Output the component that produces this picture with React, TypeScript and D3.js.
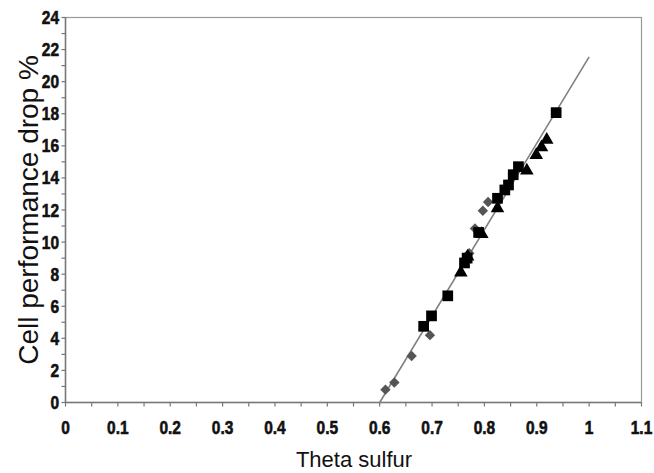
import React from "react";
import * as d3 from "d3";

const xTicks = [0, 0.1, 0.2, 0.3, 0.4, 0.5, 0.6, 0.7, 0.8, 0.9, 1, 1.1];
const yTicks = [0, 2, 4, 6, 8, 10, 12, 14, 16, 18, 20, 22, 24];

const diamondX = [0.611, 0.628, 0.661, 0.696, 0.771, 0.782, 0.797, 0.807];
const diamondY = [0.8, 1.25, 2.9, 4.2, 9.3, 10.85, 11.95, 12.5];

const squareX = [0.684, 0.699, 0.73, 0.762, 0.767, 0.789, 0.825, 0.839, 0.846, 0.855, 0.865, 0.937];
const squareY = [4.75, 5.4, 6.65, 8.7, 9.0, 10.6, 12.73, 13.25, 13.56, 14.2, 14.7, 18.07];

const triangleX = [0.755, 0.768, 0.795, 0.825, 0.881, 0.899, 0.909, 0.919];
const triangleY = [8.1, 9.1, 10.5, 12.1, 14.45, 15.43, 15.9, 16.37];

const fitX = [0.6, 1.0];
const fitY = [0, 21.55];

const W = 654;
const H = 473;
const left = 65.5;
const right = 641.5;
const top = 17.5;
const bottom = 402.5;

export default function App() {
  const x = d3.scaleLinear().domain([0, 1.1]).range([left, right]);
  const y = d3.scaleLinear().domain([0, 24]).range([bottom, top]);
  const minorX = d3.range(0, 1.1001, 0.05);
  const minorY = d3.range(0, 24.001, 1);
  const tickFont = "'Liberation Sans', Arial, sans-serif";
  const titleFont = "'Liberation Sans', Arial, sans-serif";
  const line = d3
    .line<number>()
    .x((_, i) => x(fitX[i]))
    .y((_, i) => y(fitY[i]));
  const sq = d3.symbol(d3.symbolSquare, 115)();
  const tri = d3.symbol(d3.symbolTriangle, 80)();
  const dia = d3.symbol(d3.symbolSquare, 54)();

  return (
    <svg
      width={W}
      height={H}
      style={{ position: "absolute", left: 0, top: 0, background: "#fff" }}
    >
      <rect x={left} y={top} width={right - left} height={bottom - top} fill="none" stroke="#999" strokeWidth={1.2} />
      <line x1={left} x2={right} y1={bottom} y2={bottom} stroke="#777" strokeWidth={1.5} />
      <line x1={left} x2={left} y1={top} y2={bottom} stroke="#777" strokeWidth={1.5} />
      {minorX.map((v, i) => (
        <line key={"mx" + i} x1={x(v)} x2={x(v)} y1={bottom} y2={bottom + 4} stroke="#777" strokeWidth={1.2} />
      ))}
      {minorY.map((v, i) => (
        <line key={"my" + i} x1={left - 4} x2={left} y1={y(v)} y2={y(v)} stroke="#777" strokeWidth={1.2} />
      ))}
      {xTicks.map((v) => (
        <text
          key={"xt" + v}
          transform={`translate(${x(v)},434) scale(0.86,1)`}
          textAnchor="middle"
          fontFamily={tickFont}
          fontWeight="bold"
          fontSize={18}
          fill="#111"
          stroke="#111"
          strokeWidth={0.6}
        >
          {String(v)}
        </text>
      ))}
      {yTicks.map((v) => (
        <text
          key={"yt" + v}
          transform={`translate(59,${y(v) + 6.5}) scale(0.86,1)`}
          textAnchor="end"
          fontFamily={tickFont}
          fontWeight="bold"
          fontSize={18}
          fill="#111"
          stroke="#111"
          strokeWidth={0.6}
        >
          {String(v)}
        </text>
      ))}
      <path d={line(fitX) || ""} fill="none" stroke="#808080" strokeWidth={1.6} />
      {diamondX.map((v, i) => (
        <path key={"d" + i} d={dia || ""} transform={`translate(${x(v)},${y(diamondY[i])}) rotate(45)`} fill="#555" />
      ))}
      {triangleX.map((v, i) => (
        <path key={"t" + i} d={tri || ""} transform={`translate(${x(v)},${y(triangleY[i])})`} fill="#000" />
      ))}
      {squareX.map((v, i) => (
        <path key={"s" + i} d={sq || ""} transform={`translate(${x(v)},${y(squareY[i])})`} fill="#000" />
      ))}
      <text
        x={354}
        y={467}
        textAnchor="middle"
        fontFamily={titleFont}
        fontSize={22}
        fill="#111"
      >
        Theta sulfur
      </text>
      <text
        transform={`translate(38,${210}) rotate(-90)`}
        textAnchor="middle"
        fontFamily={titleFont}
        fontSize={28}
        fill="#111"
      >
        Cell performance drop %
      </text>
    </svg>
  );
}
